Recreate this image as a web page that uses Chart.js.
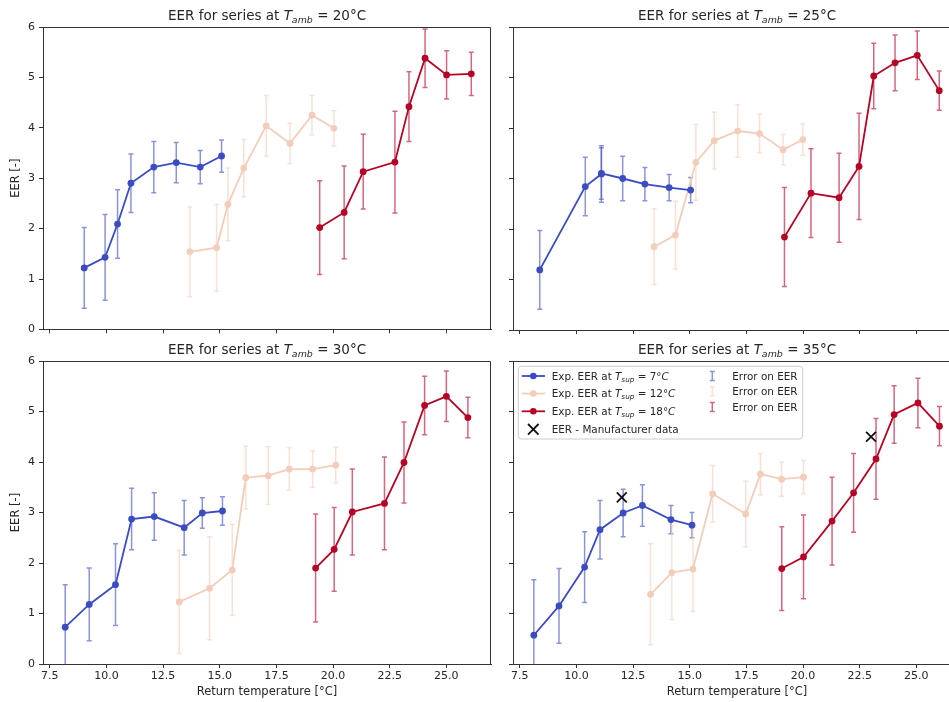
<!DOCTYPE html>
<html>
<head>
<meta charset="utf-8">
<script src="https://cdn.jsdelivr.net/npm/chart.js@4.4.0/dist/chart.umd.min.js"></script>
<style>
body { margin: 0; width: 949px; height: 702px; overflow: hidden; background: #fff; }
canvas { position: absolute; }
</style>
</head>
<body>
<canvas id="c20" width="500" height="340" style="left:0;top:0"></canvas>
<canvas id="c25" width="471" height="340" style="left:500px;top:0"></canvas>
<canvas id="c30" width="500" height="362" style="left:0;top:340px"></canvas>
<canvas id="c35" width="471" height="362" style="left:500px;top:340px"></canvas>
<script>
// axis ticks shared by all four panels
var xTicks = [7.5, 10, 12.5, 15, 17.5, 20, 22.5, 25];
var yTicks = [0, 1, 2, 3, 4, 5, 6];
var supplyTemps = [7, 12, 18];

// T_amb = 20°C
var ret20_7 = [9.02, 9.94, 10.49, 11.08, 12.09, 13.08, 14.14, 15.08];
var eer20_7 = [1.22, 1.43, 2.09, 2.90, 3.22, 3.31, 3.22, 3.44];
var err20_7 = [0.80, 0.85, 0.68, 0.58, 0.51, 0.40, 0.33, 0.32];
var ret20_12 = [13.68, 14.86, 15.36, 16.06, 17.05, 18.10, 19.07, 20.04];
var eer20_12 = [1.54, 1.62, 2.48, 3.20, 4.04, 3.69, 4.25, 3.99];
var err20_12 = [0.89, 0.86, 0.72, 0.57, 0.60, 0.40, 0.39, 0.35];
var ret20_18 = [19.41, 20.49, 21.33, 22.73, 23.35, 24.06, 25.01, 26.10];
var eer20_18 = [2.02, 2.32, 3.13, 3.32, 4.42, 5.38, 5.05, 5.07];
var err20_18 = [0.93, 0.92, 0.74, 1.01, 0.69, 0.58, 0.48, 0.43];

// T_amb = 25°C
var ret25_7 = [8.38, 10.39, 11.10, 11.10, 12.04, 13.02, 14.09, 15.04];
var eer25_7 = [1.19, 2.84, 3.09, 3.10, 3.00, 2.89, 2.82, 2.77];
var err25_7 = [0.78, 0.58, 0.56, 0.51, 0.44, 0.33, 0.26, 0.25];
var ret25_12 = [13.43, 14.37, 15.27, 16.08, 17.12, 18.08, 19.12, 19.99];
var eer25_12 = [1.65, 1.88, 3.32, 3.75, 3.94, 3.89, 3.57, 3.77];
var err25_12 = [0.75, 0.67, 0.75, 0.56, 0.52, 0.38, 0.30, 0.31];
var ret25_18 = [19.18, 20.35, 21.59, 22.47, 23.12, 24.06, 25.04, 26.01];
var eer25_18 = [1.84, 2.71, 2.62, 3.24, 5.03, 5.29, 5.44, 4.74];
var err25_18 = [0.98, 0.88, 0.88, 1.05, 0.65, 0.55, 0.48, 0.39];

// T_amb = 30°C
var ret30_7 = [8.18, 9.24, 10.40, 11.11, 12.11, 13.43, 14.23, 15.12];
var eer30_7 = [0.73, 1.18, 1.57, 2.87, 2.92, 2.70, 2.99, 3.03];
var err30_7 = [0.84, 0.72, 0.81, 0.61, 0.47, 0.54, 0.30, 0.28];
var ret30_12 = [13.21, 14.55, 15.55, 16.15, 17.14, 18.07, 19.10, 20.12];
var eer30_12 = [1.23, 1.50, 1.86, 3.69, 3.73, 3.86, 3.86, 3.94];
var err30_12 = [1.02, 1.02, 0.90, 0.62, 0.57, 0.42, 0.36, 0.35];
var ret30_18 = [19.23, 20.05, 20.85, 22.27, 23.13, 24.04, 25.00, 25.95];
var eer30_18 = [1.90, 2.27, 3.01, 3.18, 3.99, 5.12, 5.30, 4.88];
var err30_18 = [1.07, 0.83, 0.85, 0.92, 0.80, 0.58, 0.50, 0.40];

// T_amb = 35°C
var ret35_7 = [8.12, 9.23, 10.36, 11.04, 12.06, 12.91, 14.17, 15.10];
var eer35_7 = [0.57, 1.15, 1.92, 2.66, 2.99, 3.14, 2.86, 2.75];
var err35_7 = [1.10, 0.74, 0.70, 0.58, 0.47, 0.41, 0.28, 0.25];
var ret35_12 = [13.27, 14.21, 15.14, 16.01, 17.47, 18.12, 19.05, 20.02];
var eer35_12 = [1.38, 1.81, 1.88, 3.37, 2.97, 3.76, 3.66, 3.70];
var err35_12 = [1.00, 0.93, 0.84, 0.56, 0.65, 0.41, 0.34, 0.33];
var ret35_18 = [19.06, 20.02, 21.28, 22.23, 23.22, 24.02, 25.07, 26.02];
var eer35_18 = [1.89, 2.12, 2.83, 3.39, 4.06, 4.94, 5.17, 4.71];
var err35_18 = [0.83, 0.83, 0.87, 0.78, 0.80, 0.57, 0.49, 0.39];

// manufacturer points (35°C only)
var manuRet = [12, 23];
var manuEer = [3.3, 4.5];

var colors = ['#3b4cc0', '#f2cdba', '#b40426'];
var FONT = '"DejaVu Sans", sans-serif';
var INK = '#262626';
var ERR_ALPHA = 0.6;
var LEGEND_SIZE = 10.4;

// writes a line of text where parts can be normal, italic or italic subscript
function richText(ctx, parts, x, baseline, size, align) {
    var fonts = {
        n: size + 'px ' + FONT,
        i: 'italic ' + size + 'px ' + FONT,
        s: 'italic ' + (size * 0.7) + 'px ' + FONT
    };
    var total = 0;
    parts.forEach(function (p) {
        ctx.font = fonts[p[1]];
        total += ctx.measureText(p[0]).width;
    });
    var cx = align === 'center' ? x - total / 2 : x;
    ctx.textAlign = 'left';
    ctx.textBaseline = 'alphabetic';
    parts.forEach(function (p) {
        ctx.font = fonts[p[1]];
        ctx.fillText(p[0], cx, baseline + (p[1] === 's' ? size * 0.22 : 0));
        cx += ctx.measureText(p[0]).width;
    });
}

function errorIcon(ctx, x, y, h) {
    ctx.beginPath();
    ctx.moveTo(x, y - h / 2); ctx.lineTo(x, y + h / 2);
    ctx.moveTo(x - 2.5, y - h / 2); ctx.lineTo(x + 2.5, y - h / 2);
    ctx.moveTo(x - 2.5, y + h / 2); ctx.lineTo(x + 2.5, y + h / 2);
    ctx.stroke();
}

// vertical error bars with caps, under the lines
var errorBars = {
    id: 'errorBars',
    beforeDatasetsDraw: function (chart) {
        var ctx = chart.ctx, a = chart.chartArea;
        var x = chart.scales.x, y = chart.scales.y;
        ctx.save();
        ctx.beginPath();
        ctx.rect(a.left, a.top, a.right - a.left, a.bottom - a.top);
        ctx.clip();
        ctx.lineWidth = 1.5;
        ctx.globalAlpha = ERR_ALPHA;
        chart.data.datasets.forEach(function (ds) {
            if (!ds.errors) return;
            ctx.strokeStyle = ds.borderColor;
            ds.data.forEach(function (p, i) {
                var px = x.getPixelForValue(p.x);
                var top = y.getPixelForValue(p.y + ds.errors[i]);
                var bot = y.getPixelForValue(p.y - ds.errors[i]);
                ctx.beginPath();
                ctx.moveTo(px, top); ctx.lineTo(px, bot);
                ctx.moveTo(px - 2.5, top); ctx.lineTo(px + 2.5, top);
                ctx.moveTo(px - 2.5, bot); ctx.lineTo(px + 2.5, bot);
                ctx.stroke();
            });
        });
        ctx.restore();
    }
};

// box frame, panel title and (if asked) the legend
var decorations = {
    id: 'decorations',
    afterDraw: function (chart, args, opts) {
        var ctx = chart.ctx, a = chart.chartArea;
        ctx.save();
        ctx.strokeStyle = '#333';
        ctx.lineWidth = 1;
        ctx.beginPath();
        ctx.moveTo(Math.round(a.left) + 0.5, Math.round(a.top) + 0.5);
        ctx.lineTo(Math.round(a.right) - 0.5, Math.round(a.top) + 0.5);
        ctx.lineTo(Math.round(a.right) - 0.5, Math.round(a.bottom) + 0.5);
        ctx.stroke();

        ctx.fillStyle = INK;
        richText(ctx, [['EER for series at ', 'n'], ['T', 'i'], ['amb', 's'], [' = ' + opts.tamb + '°C', 'n']],
            (a.left + a.right) / 2, a.top - 6.7, 13.5, 'center');

        if (opts.legend) drawLegend(ctx, a);
        ctx.restore();
    }
};

function drawLegend(ctx, a) {
    var bx = a.left + 5.3, by = a.top + 5.3, bw = 284.4, bh = 72.7;
    ctx.save();
    ctx.fillStyle = 'rgba(255,255,255,0.8)';
    ctx.strokeStyle = '#cccccc';
    ctx.lineWidth = 1;
    ctx.beginPath();
    ctx.roundRect(bx, by, bw, bh, 3);
    ctx.fill();
    ctx.stroke();

    var rows = [15, 32.6, 50.3, 68.3];
    var rows2 = [15, 30.3, 46];
    supplyTemps.forEach(function (t, i) {
        var cy = a.top + rows[i];
        ctx.strokeStyle = colors[i];
        ctx.fillStyle = colors[i];
        ctx.lineWidth = 1.8;
        ctx.beginPath();
        ctx.moveTo(a.left + 8.7, cy); ctx.lineTo(a.left + 32, cy);
        ctx.stroke();
        ctx.beginPath();
        ctx.arc(a.left + 20.3, cy, 3.3, 0, Math.PI * 2);
        ctx.fill();
        ctx.fillStyle = INK;
        richText(ctx, [['Exp. EER at ', 'n'], ['T', 'i'], ['sup', 's'], [' = ' + t + '°', 'n'], ['C', 'i']],
            a.left + 38.7, cy + 3.6, LEGEND_SIZE, 'left');

        var cy2 = a.top + rows2[i];
        ctx.globalAlpha = ERR_ALPHA;
        ctx.strokeStyle = colors[i];
        ctx.lineWidth = 1.5;
        errorIcon(ctx, a.left + 199.3, cy2, 9);
        ctx.globalAlpha = 1;
        ctx.fillStyle = INK;
        richText(ctx, [['Error on EER', 'n']], a.left + 219.3, cy2 + 3.6, LEGEND_SIZE, 'left');
    });

    var cy4 = a.top + rows[3];
    ctx.strokeStyle = '#111';
    ctx.lineWidth = 1.8;
    ctx.beginPath();
    ctx.moveTo(a.left + 15, cy4 - 5.3); ctx.lineTo(a.left + 25.6, cy4 + 5.3);
    ctx.moveTo(a.left + 15, cy4 + 5.3); ctx.lineTo(a.left + 25.6, cy4 - 5.3);
    ctx.stroke();
    ctx.fillStyle = INK;
    richText(ctx, [['EER - Manufacturer data', 'n']], a.left + 38.7, cy4 + 3.6, LEGEND_SIZE, 'left');
    ctx.restore();
}

function series(xs, ys, errs, color) {
    return {
        data: xs.map(function (v, i) { return { x: v, y: ys[i] }; }),
        errors: errs,
        borderColor: color,
        backgroundColor: color,
        pointBackgroundColor: color,
        pointBorderWidth: 0,
        pointRadius: 3.4,
        borderWidth: 1.8,
        tension: 0
    };
}

function makeChart(id, tamb, datasets, o) {
    var gridOpts = { drawOnChartArea: false, drawTicks: true, tickLength: 4, tickWidth: 1, tickColor: '#333' };
    var borderOpts = { display: true, color: '#333', width: 1 };
    return new Chart(document.getElementById(id), {
        type: 'line',
        data: { datasets: datasets },
        options: {
            responsive: false,
            animation: false,
            layout: { padding: { left: 0, top: o.top, right: o.right, bottom: 0 } },
            plugins: {
                legend: { display: false },
                tooltip: { enabled: false },
                decorations: { tamb: tamb, legend: !!o.legend }
            },
            scales: {
                x: {
                    type: 'linear',
                    min: 7.2,
                    max: 26.97,
                    afterBuildTicks: function (s) { s.ticks = xTicks.map(function (v) { return { value: v }; }); },
                    afterFit: function (s) { s.height = o.xh; },
                    ticks: {
                        display: o.xLabels,
                        autoSkip: false,
                        maxRotation: 0,
                        padding: 2,
                        color: INK,
                        font: { family: FONT, size: 11 },
                        callback: function (v) { return v.toFixed(1); }
                    },
                    title: {
                        display: o.xLabels,
                        text: 'Return temperature [°C]',
                        color: INK,
                        font: { family: FONT, size: 11.5 },
                        padding: { top: 0, bottom: 3 }
                    },
                    grid: gridOpts,
                    border: borderOpts
                },
                y: {
                    type: 'linear',
                    min: 0,
                    max: 6,
                    afterBuildTicks: function (s) { s.ticks = yTicks.map(function (v) { return { value: v }; }); },
                    afterFit: function (s) { s.width = o.yw; },
                    ticks: {
                        display: o.yLabels,
                        padding: 4,
                        color: INK,
                        font: { family: FONT, size: 11 }
                    },
                    title: {
                        display: o.yLabels,
                        text: 'EER [-]',
                        color: INK,
                        font: { family: FONT, size: 11.5 },
                        padding: { top: 9, bottom: 0 }
                    },
                    grid: gridOpts,
                    border: borderOpts
                }
            }
        },
        plugins: [errorBars, decorations]
    });
}

makeChart('c20', 20, [
    series(ret20_7, eer20_7, err20_7, colors[0]),
    series(ret20_12, eer20_12, err20_12, colors[1]),
    series(ret20_18, eer20_18, err20_18, colors[2])
], { top: 27, right: 9, xh: 10, yw: 43, xLabels: false, yLabels: true });

makeChart('c25', 25, [
    series(ret25_7, eer25_7, err25_7, colors[0]),
    series(ret25_12, eer25_12, err25_12, colors[1]),
    series(ret25_18, eer25_18, err25_18, colors[2])
], { top: 27, right: 10, xh: 10, yw: 13, xLabels: false, yLabels: false });

makeChart('c30', 30, [
    series(ret30_7, eer30_7, err30_7, colors[0]),
    series(ret30_12, eer30_12, err30_12, colors[1]),
    series(ret30_18, eer30_18, err30_18, colors[2])
], { top: 21, right: 9, xh: 38, yw: 43, xLabels: true, yLabels: true });

makeChart('c35', 35, [
    series(ret35_7, eer35_7, err35_7, colors[0]),
    series(ret35_12, eer35_12, err35_12, colors[1]),
    series(ret35_18, eer35_18, err35_18, colors[2]),
    {
        data: manuRet.map(function (v, i) { return { x: v, y: manuEer[i] }; }),
        showLine: false,
        pointStyle: 'crossRot',
        pointRadius: 7,
        pointBorderWidth: 1.8,
        borderColor: '#111',
        backgroundColor: '#111'
    }
], { top: 21, right: 10, xh: 38, yw: 13, xLabels: true, yLabels: false, legend: true });
</script>
</body>
</html>
